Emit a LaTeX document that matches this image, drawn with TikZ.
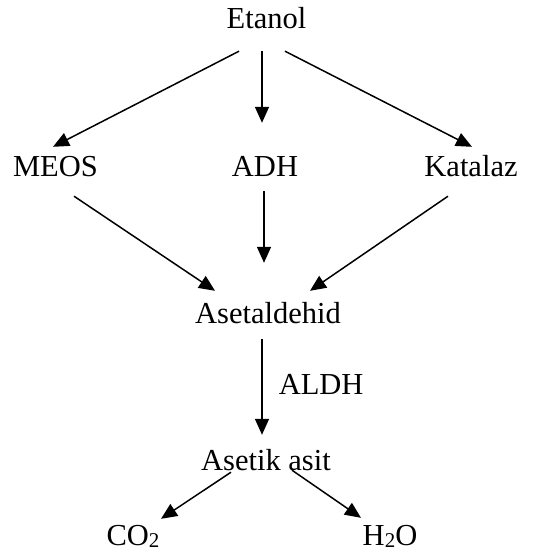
\documentclass[tikz,border=0pt]{standalone}
\usepackage{fontspec}
\setmainfont{Liberation Serif}
\usetikzlibrary{arrows.meta}
\newcommand{\chemsub}[1]{\raisebox{-2pt}{\fontsize{21pt}{24pt}\selectfont #1}}
\begin{document}
\begin{tikzpicture}[x=1pt, y=-1pt,
    every node/.style={anchor=base, inner sep=0pt, text height=21pt, text depth=6pt,
      font=\fontsize{30.5pt}{36pt}\selectfont},
    arr/.style={line width=1.5pt, -{Triangle[length=16pt, width=14pt]}}]
      \useasboundingbox (0,0) rectangle (537,552);
      %
      \node (etanol) at (266.5,28) {Etanol};          % top
      %
      \node (meos) at (55.5,176) {MEOS};              % enzymes
      \node (adh) at (265,176) {ADH};
      \node (katalaz) at (471,176) {Katalaz};
      %
      \node (asetaldehid) at (268,323) {Asetaldehid}; % middle
      \node (asetik) at (266,470) {Asetik asit};
      %
      \node (co2) at (133,545) {CO\chemsub{2}};       % bottom row
      \node (h2o) at (390,545) {H\chemsub{2}O};
      %
      \draw[arr] ([xshift=-27.5pt, yshift=-17pt]etanol.south) -- ([xshift=-2.5pt, yshift=8pt]meos.north);
      \draw[arr] ([xshift=-4.5pt, yshift=-17pt]etanol.south) -- ([xshift=-3pt, yshift=32pt]adh.north);
      \draw[arr] ([xshift=18.5pt, yshift=-17pt]etanol.south) -- ([xshift=1pt, yshift=8pt]katalaz.north);
      %%
      \draw[arr] ([xshift=18.5pt, yshift=-14pt]meos.south) -- ([xshift=-53pt, yshift=11pt]asetaldehid.north);
      \draw[arr] ([xshift=-1pt, yshift=-9pt]adh.south) -- ([xshift=-4pt, yshift=39pt]asetaldehid.north);
      \draw[arr] ([xshift=-23pt, yshift=-14pt]katalaz.south) -- ([xshift=42pt, yshift=11pt]asetaldehid.north);
      %%
      \draw[arr] ([xshift=-6pt, yshift=-10pt]asetaldehid.south) -- ([xshift=-4pt, yshift=14pt]asetik.north)
        node[midway, anchor=west, xshift=16pt] (aldh) {ALDH};
      %%
      \draw[arr] ([xshift=-35pt, yshift=4pt]asetik.south) -- ([xshift=28pt, yshift=5pt]co2.north);
      \draw[arr] ([xshift=26pt, yshift=6pt]asetik.south) -- ([xshift=-29pt, yshift=6pt]h2o.north);
      %
\end{tikzpicture}
\end{document}
